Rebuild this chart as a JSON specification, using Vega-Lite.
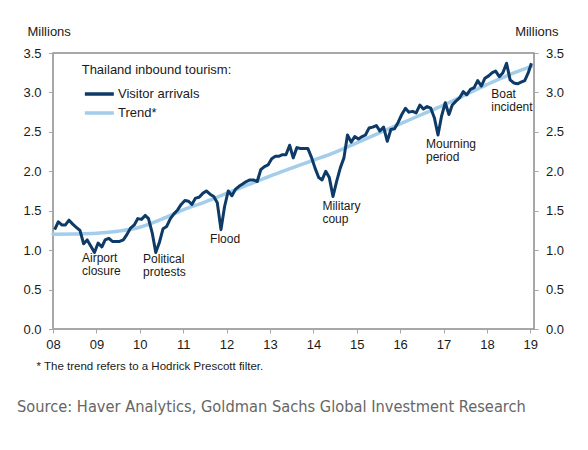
{
  "$schema": "https://vega.github.io/schema/vega-lite/v6.json",
  "width": 481,
  "height": 276,
  "autosize": {"type": "none"},
  "padding": {"left": 53, "top": 53, "right": 54, "bottom": 121},
  "background": "white",
  "config": {
    "font": "Liberation Sans",
    "view": {"stroke": "#8c8c8c", "strokeWidth": 1.5},
    "axis": {
      "grid": false,
      "domainColor": "#a6a6a6",
      "tickColor": "#a6a6a6",
      "labelColor": "#1a1a1a",
      "labelFontSize": 13,
      "labelFont": "Liberation Sans",
      "tickSize": 4
    }
  },
  "title": {
    "text": "Source: Haver Analytics, Goldman Sachs Global Investment Research",
    "orient": "bottom",
    "anchor": "start",
    "frame": "group",
    "font": "DejaVu Sans Condensed, Roboto",
    "fontSize": 16.3,
    "fontWeight": "normal",
    "color": "#666666",
    "dx": -36,
    "offset": 27
  },
  "datasets": {
    "arrivals": [
      {"d": "2008-01-15", "v": 1.26}, {"d": "2008-02-15", "v": 1.36}, {"d": "2008-03-15", "v": 1.32}, {"d": "2008-04-15", "v": 1.32},
      {"d": "2008-05-15", "v": 1.38}, {"d": "2008-06-15", "v": 1.33}, {"d": "2008-07-15", "v": 1.29}, {"d": "2008-08-15", "v": 1.25},
      {"d": "2008-09-15", "v": 1.08}, {"d": "2008-10-15", "v": 1.13}, {"d": "2008-11-15", "v": 1.05}, {"d": "2008-12-15", "v": 0.97},
      {"d": "2009-01-15", "v": 1.09}, {"d": "2009-02-15", "v": 1.04}, {"d": "2009-03-15", "v": 1.13}, {"d": "2009-04-15", "v": 1.15},
      {"d": "2009-05-15", "v": 1.11}, {"d": "2009-06-15", "v": 1.11}, {"d": "2009-07-15", "v": 1.11}, {"d": "2009-08-15", "v": 1.13},
      {"d": "2009-09-15", "v": 1.20}, {"d": "2009-10-15", "v": 1.28}, {"d": "2009-11-15", "v": 1.32}, {"d": "2009-12-15", "v": 1.40},
      {"d": "2010-01-15", "v": 1.39}, {"d": "2010-02-15", "v": 1.44}, {"d": "2010-03-15", "v": 1.40}, {"d": "2010-04-15", "v": 1.22},
      {"d": "2010-05-15", "v": 0.97}, {"d": "2010-06-15", "v": 1.10}, {"d": "2010-07-15", "v": 1.27}, {"d": "2010-08-15", "v": 1.30},
      {"d": "2010-09-15", "v": 1.40}, {"d": "2010-10-15", "v": 1.46}, {"d": "2010-11-15", "v": 1.51}, {"d": "2010-12-15", "v": 1.58},
      {"d": "2011-01-15", "v": 1.63}, {"d": "2011-02-15", "v": 1.62}, {"d": "2011-03-15", "v": 1.58}, {"d": "2011-04-15", "v": 1.66},
      {"d": "2011-05-15", "v": 1.67}, {"d": "2011-06-15", "v": 1.72}, {"d": "2011-07-15", "v": 1.75}, {"d": "2011-08-15", "v": 1.71},
      {"d": "2011-09-15", "v": 1.68}, {"d": "2011-10-15", "v": 1.60}, {"d": "2011-11-15", "v": 1.26}, {"d": "2011-12-15", "v": 1.55},
      {"d": "2012-01-15", "v": 1.75}, {"d": "2012-02-15", "v": 1.69}, {"d": "2012-03-15", "v": 1.77}, {"d": "2012-04-15", "v": 1.81},
      {"d": "2012-05-15", "v": 1.84}, {"d": "2012-06-15", "v": 1.87}, {"d": "2012-07-15", "v": 1.89}, {"d": "2012-08-15", "v": 1.89},
      {"d": "2012-09-15", "v": 1.87}, {"d": "2012-10-15", "v": 2.02}, {"d": "2012-11-15", "v": 2.06}, {"d": "2012-12-15", "v": 2.08},
      {"d": "2013-01-15", "v": 2.16}, {"d": "2013-02-15", "v": 2.19}, {"d": "2013-03-15", "v": 2.19}, {"d": "2013-04-15", "v": 2.21},
      {"d": "2013-05-15", "v": 2.21}, {"d": "2013-06-15", "v": 2.33}, {"d": "2013-07-15", "v": 2.17}, {"d": "2013-08-15", "v": 2.30},
      {"d": "2013-09-15", "v": 2.29}, {"d": "2013-10-15", "v": 2.29}, {"d": "2013-11-15", "v": 2.29}, {"d": "2013-12-15", "v": 2.18},
      {"d": "2014-01-15", "v": 2.04}, {"d": "2014-02-15", "v": 1.92}, {"d": "2014-03-15", "v": 1.89}, {"d": "2014-04-15", "v": 2.00},
      {"d": "2014-05-15", "v": 1.92}, {"d": "2014-06-15", "v": 1.68}, {"d": "2014-07-15", "v": 1.87}, {"d": "2014-08-15", "v": 2.04},
      {"d": "2014-09-15", "v": 2.17}, {"d": "2014-10-15", "v": 2.46}, {"d": "2014-11-15", "v": 2.37}, {"d": "2014-12-15", "v": 2.44},
      {"d": "2015-01-15", "v": 2.41}, {"d": "2015-02-15", "v": 2.44}, {"d": "2015-03-15", "v": 2.46}, {"d": "2015-04-15", "v": 2.55},
      {"d": "2015-05-15", "v": 2.56}, {"d": "2015-06-15", "v": 2.58}, {"d": "2015-07-15", "v": 2.51}, {"d": "2015-08-15", "v": 2.56},
      {"d": "2015-09-15", "v": 2.38}, {"d": "2015-10-15", "v": 2.53}, {"d": "2015-11-15", "v": 2.54}, {"d": "2015-12-15", "v": 2.62},
      {"d": "2016-01-15", "v": 2.72}, {"d": "2016-02-15", "v": 2.80}, {"d": "2016-03-15", "v": 2.75}, {"d": "2016-04-15", "v": 2.76},
      {"d": "2016-05-15", "v": 2.74}, {"d": "2016-06-15", "v": 2.84}, {"d": "2016-07-15", "v": 2.79}, {"d": "2016-08-15", "v": 2.82},
      {"d": "2016-09-15", "v": 2.80}, {"d": "2016-10-15", "v": 2.68}, {"d": "2016-11-15", "v": 2.46}, {"d": "2016-12-15", "v": 2.70},
      {"d": "2017-01-15", "v": 2.87}, {"d": "2017-02-15", "v": 2.72}, {"d": "2017-03-15", "v": 2.84}, {"d": "2017-04-15", "v": 2.89},
      {"d": "2017-05-15", "v": 2.93}, {"d": "2017-06-15", "v": 3.01}, {"d": "2017-07-15", "v": 2.97}, {"d": "2017-08-15", "v": 3.04},
      {"d": "2017-09-15", "v": 3.06}, {"d": "2017-10-15", "v": 3.15}, {"d": "2017-11-15", "v": 3.08}, {"d": "2017-12-15", "v": 3.18},
      {"d": "2018-01-15", "v": 3.21}, {"d": "2018-02-15", "v": 3.25}, {"d": "2018-03-15", "v": 3.27}, {"d": "2018-04-15", "v": 3.20},
      {"d": "2018-05-15", "v": 3.25}, {"d": "2018-06-15", "v": 3.37}, {"d": "2018-07-15", "v": 3.16}, {"d": "2018-08-15", "v": 3.12},
      {"d": "2018-09-15", "v": 3.11}, {"d": "2018-10-15", "v": 3.13}, {"d": "2018-11-15", "v": 3.15}, {"d": "2018-12-15", "v": 3.25},
      {"d": "2019-01-10", "v": 3.37}
    ],
    "trend": [
      {"d": "2008-01-01", "v": 1.20}, {"d": "2008-07-01", "v": 1.205}, {"d": "2009-01-01", "v": 1.215}, {"d": "2009-07-01", "v": 1.24},
      {"d": "2010-01-01", "v": 1.29}, {"d": "2010-07-01", "v": 1.39}, {"d": "2011-01-01", "v": 1.51}, {"d": "2011-07-01", "v": 1.61},
      {"d": "2012-01-01", "v": 1.72}, {"d": "2012-07-01", "v": 1.83}, {"d": "2013-01-01", "v": 1.94}, {"d": "2013-07-01", "v": 2.04},
      {"d": "2014-01-01", "v": 2.14}, {"d": "2014-07-01", "v": 2.24}, {"d": "2015-01-01", "v": 2.36}, {"d": "2015-07-01", "v": 2.48},
      {"d": "2016-01-01", "v": 2.60}, {"d": "2016-07-01", "v": 2.72}, {"d": "2017-01-01", "v": 2.84}, {"d": "2017-07-01", "v": 2.97},
      {"d": "2018-01-01", "v": 3.10}, {"d": "2018-07-01", "v": 3.22}, {"d": "2019-01-10", "v": 3.33}
    ],
    "notes": [
      {"d": "2008-09-01", "v": 0.967, "t": "Airport\nclosure"},
      {"d": "2010-01-28", "v": 0.946, "t": "Political\nprotests"},
      {"d": "2011-08-15", "v": 1.208, "t": "Flood"},
      {"d": "2014-03-18", "v": 1.623, "t": "Military\ncoup"},
      {"d": "2016-08-06", "v": 2.413, "t": "Mourning\nperiod"},
      {"d": "2018-02-06", "v": 3.038, "t": "Boat\nincident"}
    ]
  },
  "layer": [
    {
      "data": {"name": "trend"},
      "mark": {"type": "line", "strokeWidth": 3.5, "interpolate": "monotone", "strokeCap": "round"},
      "encoding": {
        "x": {
          "field": "d", "type": "temporal",
          "scale": {"type": "utc", "domain": [{"year": 2008, "month": 1, "date": 1, "utc": true}, {"year": 2019, "month": 2, "date": 1, "utc": true}]},
          "axis": {
            "tickCount": {"interval": "year", "step": 1},
            "format": "%y",
            "labelFlush": false,
            "labelOverlap": false,
            "labelPadding": 5,
            "tickSize": 4,
            "title": "* The trend refers to a Hodrick Prescott filter.",
            "titleFontSize": 11.5,
            "titleFontWeight": "normal",
            "titleColor": "#1a1a1a",
            "titleAlign": "left",
            "titleBaseline": "middle",
            "titleX": -17,
            "titleY": 37.4
          }
        },
        "y": {
          "field": "v", "type": "quantitative",
          "scale": {"domain": [0, 3.5], "nice": false},
          "axis": {
            "orient": "right",
            "values": [0, 0.5, 1, 1.5, 2, 2.5, 3, 3.5],
            "format": ".1f",
            "labelPadding": 7.5,
            "tickSize": 4,
            "title": "Millions",
            "titleAngle": 0,
            "titleAlign": "right",
            "titleBaseline": "middle",
            "titleX": 24,
            "titleY": -21.3,
            "titleFontSize": 13,
            "titleFontWeight": "normal",
            "titleColor": "#1a1a1a"
          }
        },
        "color": {
          "datum": "Trend*", "type": "nominal",
          "scale": {"domain": ["Visitor arrivals", "Trend*"], "range": ["#0d3a66", "#a3cdeb"]},
          "legend": {
            "orient": "none",
            "legendX": 28.7,
            "legendY": 11,
            "padding": 0,
            "title": "Thailand inbound tourism:",
            "titleFontSize": 13,
            "titleFontWeight": "normal",
            "titleColor": "#1a1a1a",
            "titlePadding": 5,
            "labelFontSize": 13,
            "labelColor": "#1a1a1a",
            "symbolType": "M-1.45,0H1.45",
            "symbolSize": 400,
            "symbolStrokeWidth": 3.5,
            "symbolOffset": 5.65,
            "labelOffset": 6.65,
            "rowPadding": 0
          }
        }
      }
    },
    {
      "data": {"name": "arrivals"},
      "mark": {"type": "line", "strokeWidth": 3, "strokeJoin": "round"},
      "encoding": {
        "x": {"field": "d", "type": "temporal"},
        "y": {
          "field": "v", "type": "quantitative",
          "axis": {
            "orient": "left",
            "values": [0, 0.5, 1, 1.5, 2, 2.5, 3, 3.5],
            "format": ".1f",
            "labelPadding": 7.5,
            "tickSize": 4.5,
            "title": "Millions",
            "titleAngle": 0,
            "titleAlign": "left",
            "titleBaseline": "middle",
            "titleX": -26,
            "titleY": -21.3,
            "titleFontSize": 13,
            "titleFontWeight": "normal",
            "titleColor": "#1a1a1a"
          }
        },
        "color": {"datum": "Visitor arrivals", "type": "nominal"}
      }
    },
    {
      "data": {"name": "notes"},
      "mark": {"type": "text", "align": "left", "baseline": "top", "fontSize": 12, "lineBreak": "\n", "lineHeight": 13, "color": "#1a1a1a"},
      "encoding": {
        "x": {"field": "d", "type": "temporal"},
        "y": {"field": "v", "type": "quantitative", "axis": null},
        "text": {"field": "t"}
      }
    }
  ],
  "resolve": {"scale": {"y": "shared"}, "axis": {"y": "independent"}}
}
